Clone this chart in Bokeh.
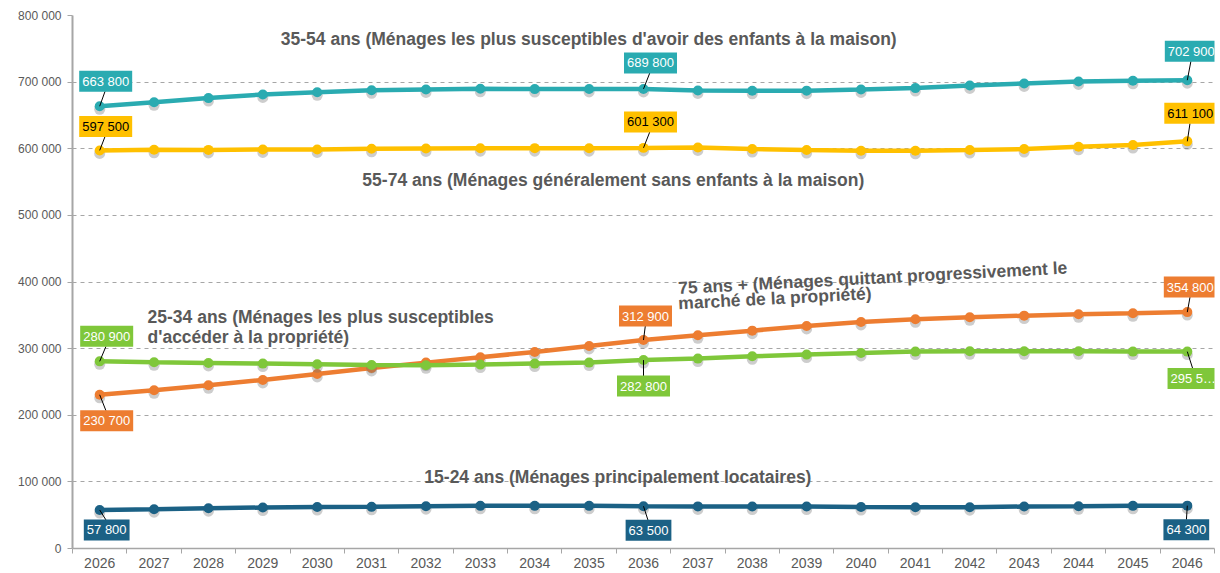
from bokeh.plotting import figure
from bokeh.models import Range1d, FixedTicker, Label, ColumnDataSource
from bokeh.transform import dodge
from bokeh.embed import file_html
from bokeh.resources import INLINE

years = [str(y) for y in range(2026, 2047)]
y_ticks = [0, 100000, 200000, 300000, 400000, 500000, 600000, 700000, 800000]
y_tick_labels = ["0", "100 000", "200 000", "300 000", "400 000", "500 000", "600 000", "700 000", "800 000"]

s_35_54 = [663800, 669700, 676000, 681500, 684700, 687700, 689000, 690000, 689500, 689800, 689800,
           687500, 687000, 687200, 689000, 691000, 695000, 698000, 701000, 702000, 702900]
s_55_74 = [597500, 598500, 598300, 599000, 599000, 600000, 600500, 600800, 600900, 600800, 601300,
           602000, 599500, 598000, 597000, 597000, 598000, 599500, 603000, 605500, 611100]
s_75p = [230700, 237500, 245000, 253000, 262000, 271000, 279000, 287000, 295000, 304000, 312900,
         320000, 327000, 334000, 340000, 344000, 347000, 349500, 351500, 353000, 354800]
s_25_34 = [280900, 279500, 278500, 277500, 276500, 275500, 275000, 276000, 277500, 279000, 282800,
           285000, 288500, 291000, 293500, 295500, 296000, 296000, 296000, 295500, 295500]
s_15_24 = [57800, 59000, 60500, 61500, 62200, 62500, 63500, 64000, 64000, 64000, 63500,
           63200, 63000, 63000, 62200, 62000, 62000, 63000, 63300, 64000, 64300]

series = [
    ("35-54", s_35_54, "#2AABB1", "white"),
    ("55-74", s_55_74, "#FFC000", "black"),
    ("75+", s_75p, "#ED7D31", "white"),
    ("25-34", s_25_34, "#7FC73A", "white"),
    ("15-24", s_15_24, "#1B6185", "white"),
]

# value labels: (series index, point index, text, dx px, dy px)
value_labels = [
    (0, 0, "663 800", 6, 25), (0, 10, "689 800", 7, 26), (0, 20, "702 900", 4, 29),
    (1, 0, "597 500", 6, 24), (1, 10, "601 300", 7, 26), (1, 20, "611 100", 3, 28),
    (2, 0, "230 700", 7, -26), (2, 10, "312 900", 2, 24), (2, 20, "354 800", 3, 25),
    (3, 0, "280 900", 7, 25), (3, 10, "282 800", 0, -26), (3, 20, "295 5\u2026", 6, -27),
    (4, 0, "57 800", 7, -20), (4, 10, "63 500", 5, -24), (4, 20, "64 300", -1, -24),
]

W, H = 1220, 573
BL, BR, BT, BB = 72, 6, 15, 25
pw, ph = W - BL - BR, H - BT - BB
x_per_px = 21.0 / pw
y_per_px = 800000.0 / ph

p = figure(width=W, height=H, output_backend="svg", toolbar_location=None,
           x_range=Range1d(-0.5, 20.5), y_range=Range1d(0, 800000),
           min_border_left=BL, min_border_right=BR, min_border_top=BT, min_border_bottom=BB)
p.outline_line_color = None
p.background_fill_color = "white"

xs = list(range(len(years)))

# axes
p.yaxis.ticker = FixedTicker(ticks=y_ticks)
p.yaxis.major_label_overrides = {t: l for t, l in zip(y_ticks, y_tick_labels)}
p.yaxis.major_label_text_font = "Liberation Sans"
p.yaxis.major_label_text_font_size = "12px"
p.yaxis.major_label_text_color = "#595959"
p.yaxis.axis_line_color = "#A6A6A6"
p.yaxis.axis_line_width = 2
p.yaxis.major_tick_line_color = "#A6A6A6"
p.yaxis.major_tick_out = 5
p.yaxis.major_tick_in = 0
p.yaxis.minor_tick_line_color = None
p.yaxis.major_label_standoff = 6

p.xaxis.ticker = FixedTicker(ticks=xs, minor_ticks=[i - 0.5 for i in range(len(years) + 1)])
p.xaxis.major_label_overrides = {i: y for i, y in enumerate(years)}
p.xaxis.major_label_text_font = "Liberation Sans"
p.xaxis.major_label_text_font_size = "14px"
p.xaxis.major_label_text_color = "#595959"
p.xaxis.axis_line_color = "#A6A6A6"
p.xaxis.axis_line_width = 1.5
p.xaxis.major_tick_line_color = None
p.xaxis.major_tick_out = 0
p.xaxis.major_tick_in = 0
p.xaxis.minor_tick_line_color = "#A6A6A6"
p.xaxis.minor_tick_out = 5
p.xaxis.minor_tick_in = 0
p.xaxis.major_label_standoff = 4

p.xgrid.grid_line_color = None
p.ygrid.grid_line_color = "#A6A6A6"
p.ygrid.grid_line_dash = "4 4"
p.ygrid.grid_line_width = 1

for name, vals, color, tcol in series:
    src = ColumnDataSource(dict(x=xs, y=vals))
    p.scatter(x="x", y=dodge("y", -3 * y_per_px, range=p.y_range), source=src, size=11,
              fill_color="#6F6F6F", fill_alpha=0.35, line_color=None)
    p.line(x="x", y="y", source=src, line_color=color, line_width=4.5)
    p.scatter(x="x", y="y", source=src, size=10, fill_color=color, line_color=None)

# leader lines and value boxes
for si, pi, txt, dx, dy in value_labels:
    name, vals, color, tcol = series[si]
    v = vals[pi]
    ex = dx * x_per_px * 0.9
    ey = (dy - (10 if dy > 0 else -10)) * y_per_px
    p.segment(x0=[pi], y0=[v], x1=[pi + ex], y1=[v + ey], line_color="black", line_width=1)
    p.add_layout(Label(x=pi, y=v, x_offset=dx, y_offset=dy, text=txt,
                       text_align="center", text_baseline="middle",
                       text_font="Liberation Sans", text_font_size="13px", text_color=tcol,
                       background_fill_color=color, padding=3))

ann_style = dict(text_font="Liberation Sans", text_font_style="bold", text_font_size="17.5px",
                 text_color="#595959", text_baseline="middle", text_align="left")
annotations = [
    (3.33, 764000, "35-54 ans (Ménages les plus susceptibles d'avoir des enfants à la maison)", 0),
    (4.83, 552500, "55-74 ans (Ménages généralement sans enfants à la maison)", 0),
    (0.88, 348000, "25-34 ans (Ménages les plus susceptibles", 0),
    (0.88, 318000, "d'accéder à la propriété)", 0),
    (10.64, 391000, "75 ans + (Ménages quittant progressivement le", 3),
    (10.64, 368000, "marché de la propriété)", 3),
    (5.97, 108000, "15-24 ans (Ménages principalement locataires)", 0),
]
for ax, ay, txt, ang in annotations:
    p.add_layout(Label(x=ax, y=ay, text=txt, angle=ang, angle_units="deg", **ann_style))

open("out.html", "w").write(file_html(p, INLINE))
